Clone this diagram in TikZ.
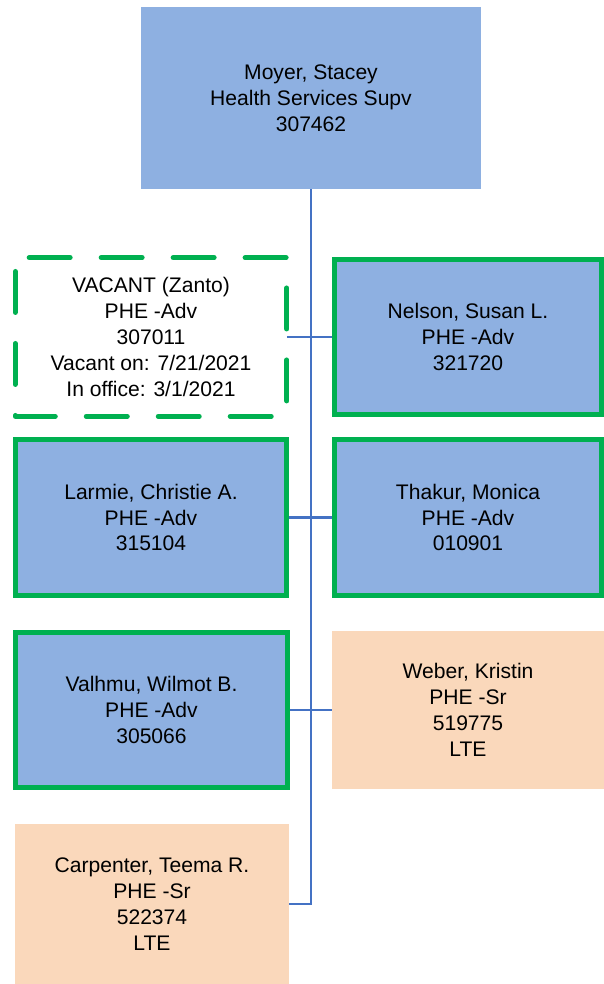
\documentclass[tikz,border=0pt]{standalone}
\usepackage{fontspec}
\setmainfont{Liberation Sans}
\usepackage{xcolor}
\usepackage{tikz}
\usetikzlibrary{positioning,calc}

\definecolor{advblue}{RGB}{142,176,225}
\definecolor{ltepeach}{RGB}{250,216,187}
\definecolor{advgreen}{RGB}{0,176,80}
\definecolor{linkblue}{RGB}{68,114,196}

\begin{document}
\begin{tikzpicture}[
x=0.02cm,
y=-0.02cm,
every node/.style={font=\fontsize{12}{14.7}\selectfont},
supv/.style={rectangle,fill=advblue,align=center,inner sep=0pt,minimum width=6.82cm,minimum height=3.64cm},
adv/.style={rectangle,draw=advgreen,line width=0.1cm,fill=advblue,align=center,inner sep=0pt,minimum width=5.34cm,minimum height=3.12cm},
vacant/.style={rectangle,fill=white,align=center,inner sep=0pt,minimum width=5.42cm,minimum height=3.16cm},
vacantline/.style={draw=advgreen,line width=0.1cm,dash pattern=on 0.82cm off 0.62cm,dash phase=1.16cm,line cap=round,line join=round},
lte/.style={rectangle,fill=ltepeach,align=center,inner sep=0pt,minimum width=5.44cm,minimum height=3.16cm},
link/.style={draw=linkblue,line width=1.2pt}
]
\useasboundingbox (0,0) rectangle (604,984);

\node[supv] (moyer) at (311,98) {Moyer, Stacey\\Health Services Supv\\307462};
\node[vacant] (vacant) at (151,337) {VACANT (Zanto)\\PHE -Adv\\307011\\Vacant on: 7/21/2021\\In office: 3/1/2021};
\node[adv] (nelson) at (468,337) {Nelson, Susan L.\\PHE -Adv\\321720};
\node[adv,minimum width=5.42cm] (larmie) at (151,517.5) {Larmie, Christie A.\\PHE -Adv\\315104};
\node[adv] (thakur) at (468,517.5) {Thakur, Monica\\PHE -Adv\\010901};
\node[adv,minimum width=5.44cm] (valhmu) at (151.5,710) {Valhmu, Wilmot B.\\PHE -Adv\\305066};
\node[lte] (weber) at (468,710) {Weber, Kristin\\PHE -Sr\\519775\\LTE};
\node[lte,minimum width=5.48cm,minimum height=3.2cm] (carpenter) at (152,904) {Carpenter, Teema R.\\PHE -Sr\\522374\\LTE};

% dashed frame of the vacant post, drawn clockwise
\draw[vacantline] (vacant.north west) -- (vacant.north east) -- (vacant.south east) -- (vacant.south west) -- cycle;

\draw[link] (moyer.south) -- (moyer.south |- carpenter.east) -- (carpenter.east);
\draw[link] (vacant.east) -- (nelson.west);
\draw[link] (larmie.east) -- (thakur.west);
\draw[link] (valhmu.east) -- (weber.west);
\end{tikzpicture}
\end{document}
